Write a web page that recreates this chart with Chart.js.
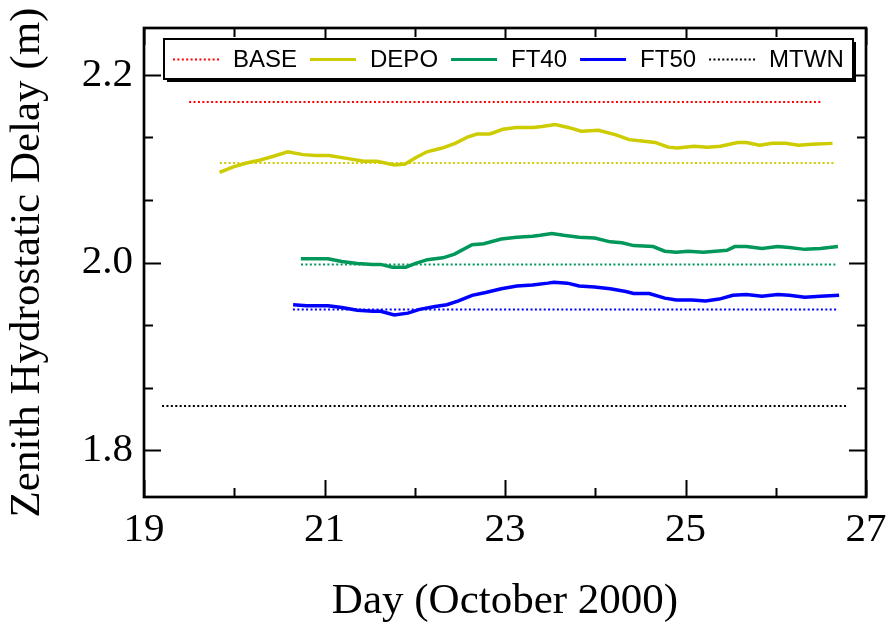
<!DOCTYPE html>
<html>
<head>
<meta charset="utf-8">
<title>Zenith Hydrostatic Delay</title>
<script src="https://cdn.jsdelivr.net/npm/chart.js@4.4.1/dist/chart.umd.min.js"></script>
<style>
    html, body { margin: 0; padding: 0; background: #fff; }
    canvas { display: block; }
</style>
</head>
<body>
<canvas id="zhdChart" width="888" height="628"></canvas>
<script>
// axis ticks
let xTicks = [19, 21, 23, 25, 27];
let xMinorTicks = [20, 22, 24, 26];
let yTicks = [1.8, 2.0, 2.2];
let yMinorTicks = [1.8667, 1.9333, 2.0667, 2.1333];

// estimated ZHD series (day of October 2000, metres)
let depoDays = [19.837, 19.99, 20.136, 20.28, 20.425, 20.594, 20.762, 20.907, 21.051, 21.244,
    21.436, 21.581, 21.774, 21.894, 22.014, 22.135, 22.303, 22.448, 22.592, 22.689,
    22.833, 22.978, 23.122, 23.315, 23.411, 23.556, 23.7, 23.845, 24.037, 24.23,
    24.375, 24.567, 24.664, 24.808, 24.905, 25.097, 25.242, 25.386, 25.579, 25.675,
    25.82, 25.964, 26.109, 26.253, 26.398, 26.629];
let depoZhd = [2.096, 2.102, 2.106, 2.109, 2.113, 2.118, 2.115, 2.114, 2.114, 2.111,
    2.108, 2.108, 2.104, 2.105, 2.112, 2.118, 2.122, 2.127, 2.134, 2.137,
    2.137, 2.142, 2.144, 2.144, 2.145, 2.147, 2.144, 2.140, 2.141, 2.136,
    2.131, 2.129, 2.128, 2.123, 2.122, 2.124, 2.123, 2.124, 2.128, 2.128,
    2.125, 2.127, 2.127, 2.125, 2.126, 2.127];

let ft40Days = [20.738, 20.889, 21.04, 21.191, 21.363, 21.536, 21.622, 21.751, 21.902, 22.01,
    22.14, 22.312, 22.441, 22.635, 22.765, 22.959, 23.131, 23.304, 23.39, 23.519,
    23.649, 23.821, 23.994, 24.166, 24.296, 24.425, 24.641, 24.77, 24.899, 25.029,
    25.201, 25.331, 25.46, 25.546, 25.675, 25.848, 26.021, 26.15, 26.322, 26.495, 26.689];
let ft40Zhd = [2.004, 2.004, 2.004, 2.001, 1.999, 1.998, 1.998, 1.995, 1.995, 1.999,
    2.003, 2.005, 2.009, 2.019, 2.020, 2.025, 2.027, 2.028, 2.029, 2.031,
    2.029, 2.027, 2.026, 2.022, 2.021, 2.018, 2.017, 2.012, 2.011, 2.012,
    2.011, 2.012, 2.013, 2.017, 2.017, 2.015, 2.017, 2.016, 2.014, 2.015, 2.017];

let ft50Days = [20.652, 20.803, 21.04, 21.191, 21.363, 21.536, 21.622, 21.773, 21.924, 22.053,
    22.226, 22.355, 22.485, 22.635, 22.786, 22.959, 23.131, 23.304, 23.476, 23.541,
    23.692, 23.821, 23.994, 24.166, 24.339, 24.425, 24.598, 24.77, 24.899, 25.072,
    25.223, 25.374, 25.525, 25.675, 25.848, 26.021, 26.15, 26.322, 26.495, 26.702];
let ft50Zhd = [1.955, 1.954, 1.954, 1.952, 1.949, 1.948, 1.948, 1.944, 1.946, 1.950,
    1.953, 1.955, 1.959, 1.965, 1.968, 1.972, 1.975, 1.976, 1.978, 1.979,
    1.978, 1.975, 1.974, 1.972, 1.969, 1.967, 1.967, 1.962, 1.960, 1.960,
    1.959, 1.961, 1.965, 1.966, 1.964, 1.966, 1.965, 1.963, 1.964, 1.965];

// model values, drawn as flat dotted lines over each station's span
let baseDays = [19.5, 26.5];
let baseZhd = [2.171, 2.171];
let depoModelDays = [19.84, 26.65];
let depoModelZhd = [2.106, 2.106];
let ft40ModelDays = [20.74, 26.66];
let ft40ModelZhd = [1.998, 1.998];
let ft50ModelDays = [20.65, 26.68];
let ft50ModelZhd = [1.950, 1.950];
let mtwnDays = [19.2, 26.8];
let mtwnZhd = [1.847, 1.847];

let serif = '"Liberation Serif", "Times New Roman", serif';
let dotted = [2, 2.4];

function points(days, values) {
    return days.map((d, i) => ({ x: d, y: values[i] }));
}

function solid(label, days, values, color) {
    return { label: label, data: points(days, values), borderColor: color, borderWidth: 3.5 };
}

function dots(label, days, values, color) {
    return {
        label: label, data: points(days, values), borderColor: color,
        borderWidth: 2, borderDash: dotted, borderCapStyle: 'butt'
    };
}

// frame box with inward ticks on all four sides
let frameTicks = {
    id: 'frameTicks',
    afterDatasetsDraw(chart) {
        let ctx = chart.ctx;
        let a = chart.chartArea;
        let xs = chart.scales.x;
        let ys = chart.scales.y;
        ctx.save();
        ctx.strokeStyle = '#000';
        ctx.lineWidth = 2;
        ctx.beginPath();
        let tick = (v, len) => {
            let px = Math.round(xs.getPixelForValue(v)) + 0.5;
            ctx.moveTo(px, a.bottom); ctx.lineTo(px, a.bottom - len);
            ctx.moveTo(px, a.top); ctx.lineTo(px, a.top + len);
        };
        let ytick = (v, len) => {
            let py = Math.round(ys.getPixelForValue(v)) + 0.5;
            ctx.moveTo(a.left, py); ctx.lineTo(a.left + len, py);
            ctx.moveTo(a.right, py); ctx.lineTo(a.right - len, py);
        };
        xTicks.forEach(v => tick(v, 17));
        xMinorTicks.forEach(v => tick(v, 9));
        yTicks.forEach(v => ytick(v, 17));
        yMinorTicks.forEach(v => ytick(v, 9));
        ctx.stroke();
        ctx.lineWidth = 2.7;
        ctx.strokeRect(a.left, a.top, a.right - a.left, a.bottom - a.top);
        ctx.restore();
    }
};

// legend panel with a drop shadow, line samples taken from the labelled datasets
let legendPanel = {
    id: 'legendPanel',
    afterDraw(chart) {
        let ctx = chart.ctx;
        let left = 164, top = 39, width = 689, height = 40;
        ctx.save();
        ctx.fillStyle = '#000';
        ctx.fillRect(left + 3, top + 3, width, height);
        ctx.fillStyle = '#fff';
        ctx.fillRect(left, top, width, height);
        ctx.strokeStyle = '#000';
        ctx.lineWidth = 2;
        ctx.strokeRect(left, top, width, height);

        ctx.font = '24px "Liberation Sans", Arial, sans-serif';
        ctx.textBaseline = 'middle';
        let y = top + height / 2;
        let x = left + 9;
        chart.data.datasets.filter(ds => ds.label).forEach(ds => {
            ctx.strokeStyle = ds.borderColor;
            ctx.lineWidth = ds.borderDash ? 2 : 3;
            ctx.setLineDash(ds.borderDash || []);
            ctx.beginPath();
            ctx.moveTo(x, Math.round(y) + 0.5);
            ctx.lineTo(x + 46, Math.round(y) + 0.5);
            ctx.stroke();
            ctx.setLineDash([]);
            x += 60;
            ctx.fillStyle = '#000';
            ctx.fillText(ds.label, x, y + 1);
            x += ctx.measureText(ds.label).width + 13;
        });
        ctx.restore();
    }
};

let chart = new Chart(document.getElementById('zhdChart'), {
    type: 'line',
    data: {
        datasets: [
            dots('BASE', baseDays, baseZhd, '#ff0000'),
            solid('DEPO', depoDays, depoZhd, '#cccc00'),
            solid('FT40', ft40Days, ft40Zhd, '#00985a'),
            solid('FT50', ft50Days, ft50Zhd, '#0000ff'),
            dots('MTWN', mtwnDays, mtwnZhd, '#000000'),
            dots('', depoModelDays, depoModelZhd, '#cccc00'),
            dots('', ft40ModelDays, ft40ModelZhd, '#00985a'),
            dots('', ft50ModelDays, ft50ModelZhd, '#0000ff')
        ]
    },
    options: {
        responsive: false,
        animation: false,
        layout: { padding: { top: 28, right: 22, left: 0, bottom: 0 } },
        elements: {
            point: { radius: 0 },
            line: { tension: 0, fill: false }
        },
        plugins: {
            legend: { display: false },
            tooltip: { enabled: false }
        },
        scales: {
            x: {
                type: 'linear',
                min: 19,
                max: 27,
                grid: { display: false, drawTicks: false },
                border: { display: false },
                afterBuildTicks: s => { s.ticks = xTicks.map(v => ({ value: v })); },
                // fixed band height; end labels may overhang the plot sides
                afterFit: s => { s.height = 131; s.paddingLeft = 0; s.paddingRight = 0; },
                ticks: {
                    color: '#000',
                    padding: 9,
                    maxRotation: 0,
                    font: { family: serif, size: 41 },
                    callback: v => String(v)
                },
                title: {
                    display: true,
                    text: 'Day (October 2000)',
                    color: '#000',
                    font: { family: serif, size: 43 },
                    padding: { top: 0, bottom: 0 }
                }
            },
            y: {
                type: 'linear',
                min: 1.75,
                max: 2.25,
                grid: { display: false, drawTicks: false },
                border: { display: false },
                afterBuildTicks: s => { s.ticks = yTicks.map(v => ({ value: v })); },
                afterFit: s => { s.width = 144; s.paddingTop = 0; s.paddingBottom = 0; },
                ticks: {
                    color: '#000',
                    padding: 11,
                    font: { family: serif, size: 41 },
                    callback: v => v.toFixed(1)
                },
                title: {
                    display: true,
                    text: 'Zenith Hydrostatic Delay (m)',
                    color: '#000',
                    font: { family: serif, size: 43 },
                    padding: { top: 2, bottom: 0 }
                }
            }
        }
    },
    plugins: [frameTicks, legendPanel]
});
</script>
</body>
</html>
